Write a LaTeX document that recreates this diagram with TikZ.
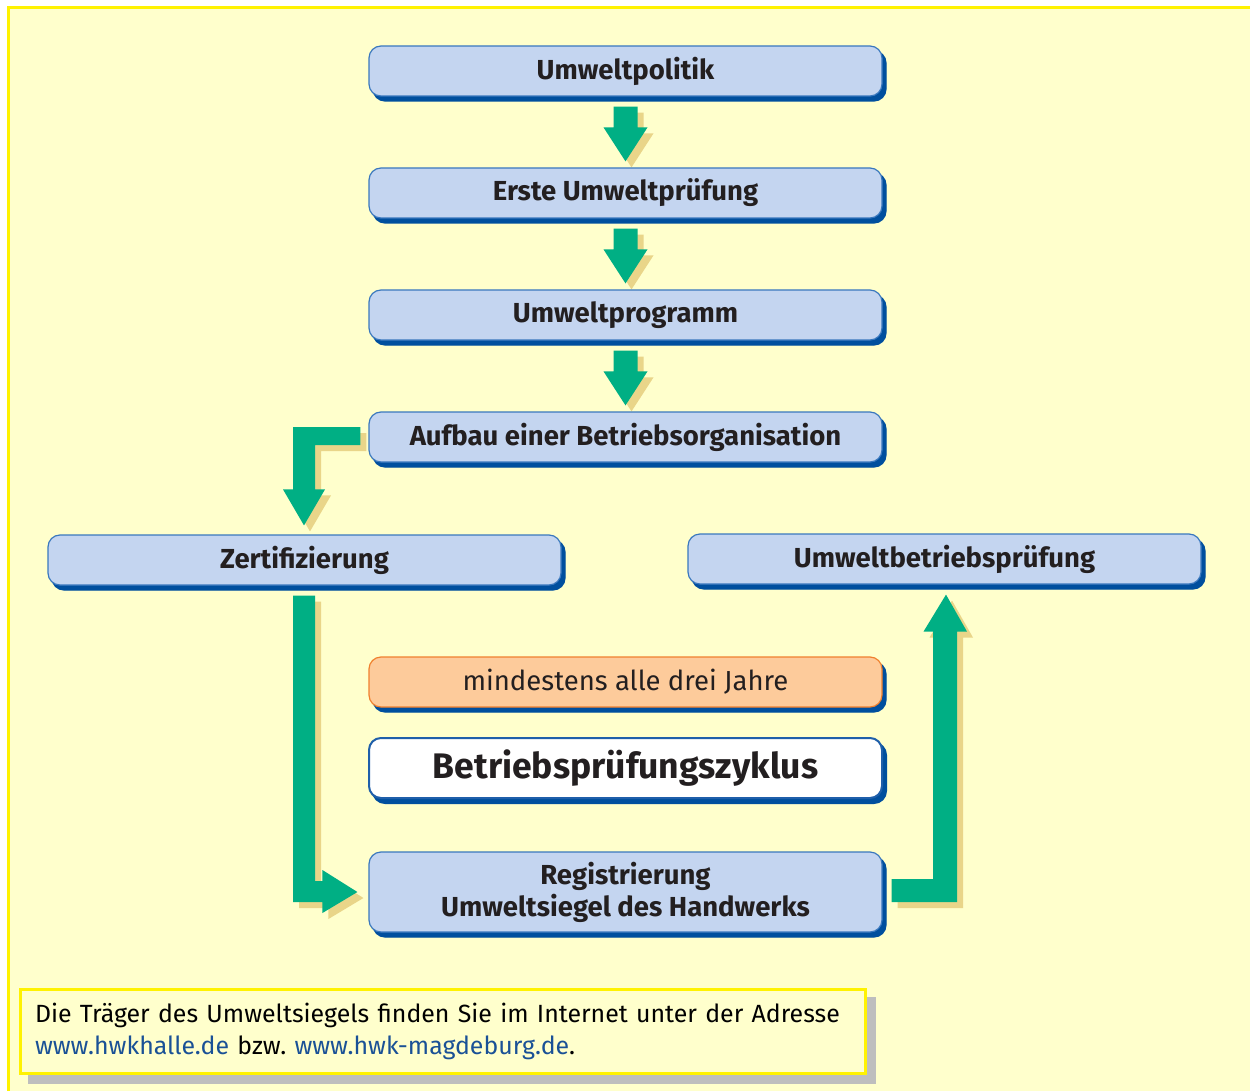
\documentclass[tikz,border=0pt]{standalone}
\usepackage{fontspec}
\setmainfont{Fira Sans}
\usetikzlibrary{calc,shadows}
\definecolor{bgy}{HTML}{FFFFCC}
\definecolor{framey}{HTML}{FFF200}
\definecolor{boxfill}{HTML}{C4D5F0}
\definecolor{boxline}{HTML}{3A78BE}
\definecolor{boxshadow}{HTML}{004F9E}
\definecolor{arrgreen}{HTML}{00AF84}
\definecolor{arrshadow}{HTML}{E9D589}
\definecolor{orfill}{HTML}{FDCB9B}
\definecolor{orline}{HTML}{F0802E}
\definecolor{txt}{HTML}{231F20}
\definecolor{linkblue}{HTML}{1A5196}
\definecolor{noteshadow}{HTML}{BEBEBE}
\definecolor{zykline}{HTML}{1F5FAA}
\pgfdeclarelayer{bglayer}
\pgfdeclarelayer{arrlayer}
\pgfsetlayers{bglayer,arrlayer,main}
\tikzset{
  flowbox/.style={draw=boxline, line width=1.2pt, fill=boxfill, rounded corners=12pt,
    minimum width=513pt, minimum height=50pt, inner sep=0pt, text=txt, align=center,
    font=\bfseries\fontsize{27.5}{32}\selectfont,
    copy shadow={shadow xshift=4pt, shadow yshift=-5pt, fill=boxshadow, draw=boxshadow}},
  orangebox/.style={flowbox, fill=orfill, draw=orline, font=\fontsize{27.5}{32}\selectfont},
  cyclebox/.style={flowbox, fill=white, draw=zykline, line width=2pt, minimum height=60pt,
    font=\bfseries\fontsize{35.5}{40}\selectfont},
  notebox/.style={draw=framey, line width=3pt, fill=bgy, minimum width=845pt, minimum height=84pt,
    text width=815pt, inner xsep=15pt, inner ysep=0pt, align=left, text=black,
    font=\frenchspacing\fontsize{24.9}{32}\selectfont,
    copy shadow={shadow xshift=9pt, shadow yshift=-9pt, fill=noteshadow, draw=noteshadow}},
}
\newcommand\StraightArrow[4]{%
  \fill[#4] ($(#1.south)+(-12,10)+(#3)$) -- ($(#1.south)+(12,10)+(#3)$)
   -- ($(#2.north)+(12,-40)+(#3)$) -- ($(#2.north)+(22,-40)+(#3)$)
   -- ($(#2.north)+(0,-6)+(#3)$) -- ($(#2.north)+(-22,-40)+(#3)$)
   -- ($(#2.north)+(-12,-40)+(#3)$) -- cycle;}
\begin{document}
\begin{tikzpicture}[x=1pt,y=-1pt]
\useasboundingbox (0,0) rectangle (1250,1091);
\begin{pgfonlayer}{bglayer}
  \fill[bgy] (7,6) rectangle (1250,1091);
  \draw[framey, line width=3pt] (8.5,1091) -- (8.5,7.5) -- (1250,7.5);
\end{pgfonlayer}

\node[flowbox] (pol) at (625.5,71) {Umweltpolitik};
\node[flowbox] (erste) at (625.5,193) {Erste Umweltprüfung};
\node[flowbox] (prog) at (625.5,315) {Umweltprogramm};
\node[flowbox] (aufbau) at (625.5,437) {Aufbau einer Betriebsorganisation};
\node[flowbox] (zert) at (304.5,560) {Zertifizierung};
\node[flowbox] (umb) at (944.5,559) {Umweltbetriebsprüfung};
\node[orangebox] (mind) at (625.5,682) {mindestens alle drei Jahre};
\node[cyclebox] (zyk) at (625.5,768) {Betriebsprüfungszyklus};
\node[flowbox, minimum height=80pt] (reg) at (625.5,892) {Registrierung\\Umweltsiegel des Handwerks};
\node[notebox] (note) at (442.5,1031) {Die Träger des Umweltsiegels finden Sie im Internet unter der Adresse\\
  \textcolor{linkblue}{www.hwkhalle.de} bzw. \textcolor{linkblue}{www.hwk-magdeburg.de}.};

\coordinate (k1) at (zert.north |- aufbau.west);
\coordinate (k2) at (zert.south |- reg.west);
\coordinate (k3) at (umb.south |- reg.east);

\begin{pgfonlayer}{arrlayer}
\foreach \off/\col in {{6,6}/arrshadow, {0,0}/arrgreen}{
  \StraightArrow{pol}{erste}{\off}{\col}
  \StraightArrow{erste}{prog}{\off}{\col}
  \StraightArrow{prog}{aufbau}{\off}{\col}
  % Aufbau -> Zertifizierung
  \fill[\col] ($(aufbau.west)+(-8,-10)+(\off)$) -- ($(k1)+(-11.5,-10)+(\off)$)
    -- ($(zert.north)+(-11.5,-45)+(\off)$) -- ($(zert.north)+(-21.5,-45)+(\off)$)
    -- ($(zert.north)+(-0.5,-9)+(\off)$) -- ($(zert.north)+(20.5,-45)+(\off)$)
    -- ($(zert.north)+(10.5,-45)+(\off)$) -- ($(k1)+(10.5,8)+(\off)$)
    -- ($(aufbau.west)+(-8,8)+(\off)$) -- cycle;
  % Zertifizierung -> Registrierung
  \fill[\col] ($(zert.south)+(-11.5,10)+(\off)$) -- ($(zert.south)+(10.5,10)+(\off)$)
    -- ($(k2)+(10.5,-11)+(\off)$) -- ($(reg.west)+(-46,-11)+(\off)$)
    -- ($(reg.west)+(-46,-22)+(\off)$) -- ($(reg.west)+(-11,0)+(\off)$)
    -- ($(reg.west)+(-46,21)+(\off)$) -- ($(reg.west)+(-46,10)+(\off)$)
    -- ($(k2)+(-11.5,10)+(\off)$) -- cycle;
  % Registrierung -> Umweltbetriebsprüfung
  \fill[\col] ($(reg.east)+(9,-13)+(\off)$) -- ($(k3)+(-11.5,-13)+(\off)$)
    -- ($(umb.south)+(-11.5,47)+(\off)$) -- ($(umb.south)+(-21,47)+(\off)$)
    -- ($(umb.south)+(1.5,10)+(\off)$) -- ($(umb.south)+(22.5,47)+(\off)$)
    -- ($(umb.south)+(12.5,47)+(\off)$) -- ($(k3)+(12.5,10)+(\off)$)
    -- ($(reg.east)+(9,10)+(\off)$) -- cycle;
}
\end{pgfonlayer}
\end{tikzpicture}
\end{document}
